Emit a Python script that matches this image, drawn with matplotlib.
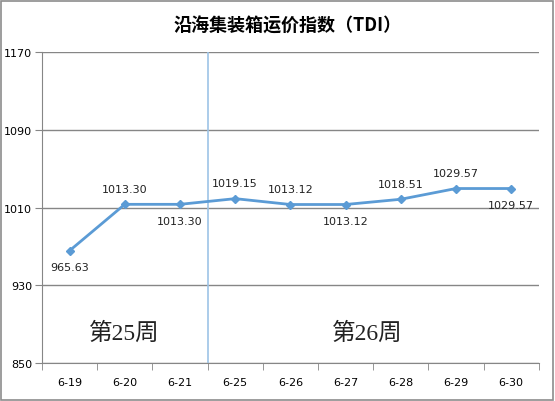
import matplotlib
matplotlib.use('Agg')
import matplotlib.pyplot as plt
from matplotlib.patches import Rectangle

# data
dates = ['6-19', '6-20', '6-21', '6-25', '6-26', '6-27', '6-28', '6-29', '6-30']
tdi = [965.63, 1013.30, 1013.30, 1019.15, 1013.12, 1013.12, 1018.51, 1029.57, 1029.57]
label_pos = ['below', 'above', 'below', 'above', 'above', 'below', 'above', 'above', 'below']
y_ticks = [850, 930, 1010, 1090, 1170]
week_labels = ['第25周', '第26周']

line_color = '#5B9BD5'
grid_color = '#868686'

fig = plt.figure(figsize=(5.55, 4.02), dpi=100)
ax = fig.add_axes([0.0757, 0.0945, 0.895, 0.7735])

x = list(range(len(dates)))
ax.plot(x, tdi, color=line_color, lw=2, marker='D', ms=4.5, zorder=3)

for xi, v, pos in zip(x, tdi, label_pos):
    dy = 11 if pos == 'above' else -12
    ax.annotate(f'{v:.2f}', (xi, v), xytext=(0, dy), textcoords='offset points',
                ha='center', va='center', fontsize=8, color='#222222')

# week separator
ax.axvline(2.5, color='#9DC3E6', lw=1.2, zorder=2)
ax.text(1, 881, week_labels[0], ha='center', va='center', fontsize=17,
        family=['Liberation Serif', 'Noto Sans CJK SC'], color='#222222')
ax.text(5.4, 881, week_labels[1], ha='center', va='center', fontsize=17,
        family=['Liberation Serif', 'Noto Sans CJK SC'], color='#222222')

ax.set_xlim(-0.5, len(dates) - 0.5)
ax.set_ylim(850, 1170)
ax.set_yticks(y_ticks)
ax.set_yticklabels([str(t) for t in y_ticks], fontsize=8)
ax.set_xticks(x)
ax.set_xticklabels(dates, fontsize=8)
ax.tick_params(axis='x', length=0, pad=10)
ax.set_xticks([i - 0.5 for i in range(len(dates) + 1)], minor=True)
ax.tick_params(axis='x', which='minor', length=5, color=grid_color, direction='out')
ax.tick_params(axis='y', length=5, color=grid_color, direction='out', pad=2)

ax.grid(axis='y', color=grid_color, lw=1)
ax.set_axisbelow(True)
for side in ['top', 'right']:
    ax.spines[side].set_visible(False)
ax.spines['left'].set_color(grid_color)
ax.spines['bottom'].set_color(grid_color)

fig.text(0.518, 0.935, '沿海集装箱运价指数（TDI）', ha='center', va='center',
         fontsize=13, fontweight='bold', family=['Noto Sans CJK SC', 'DejaVu Sans'])

# outer border
fig.patches.append(Rectangle((0.002, 0.003), 0.995, 0.993, transform=fig.transFigure,
                             fill=False, edgecolor='#8C8C8C', lw=1.2))

fig.savefig('out.png', dpi=100)
